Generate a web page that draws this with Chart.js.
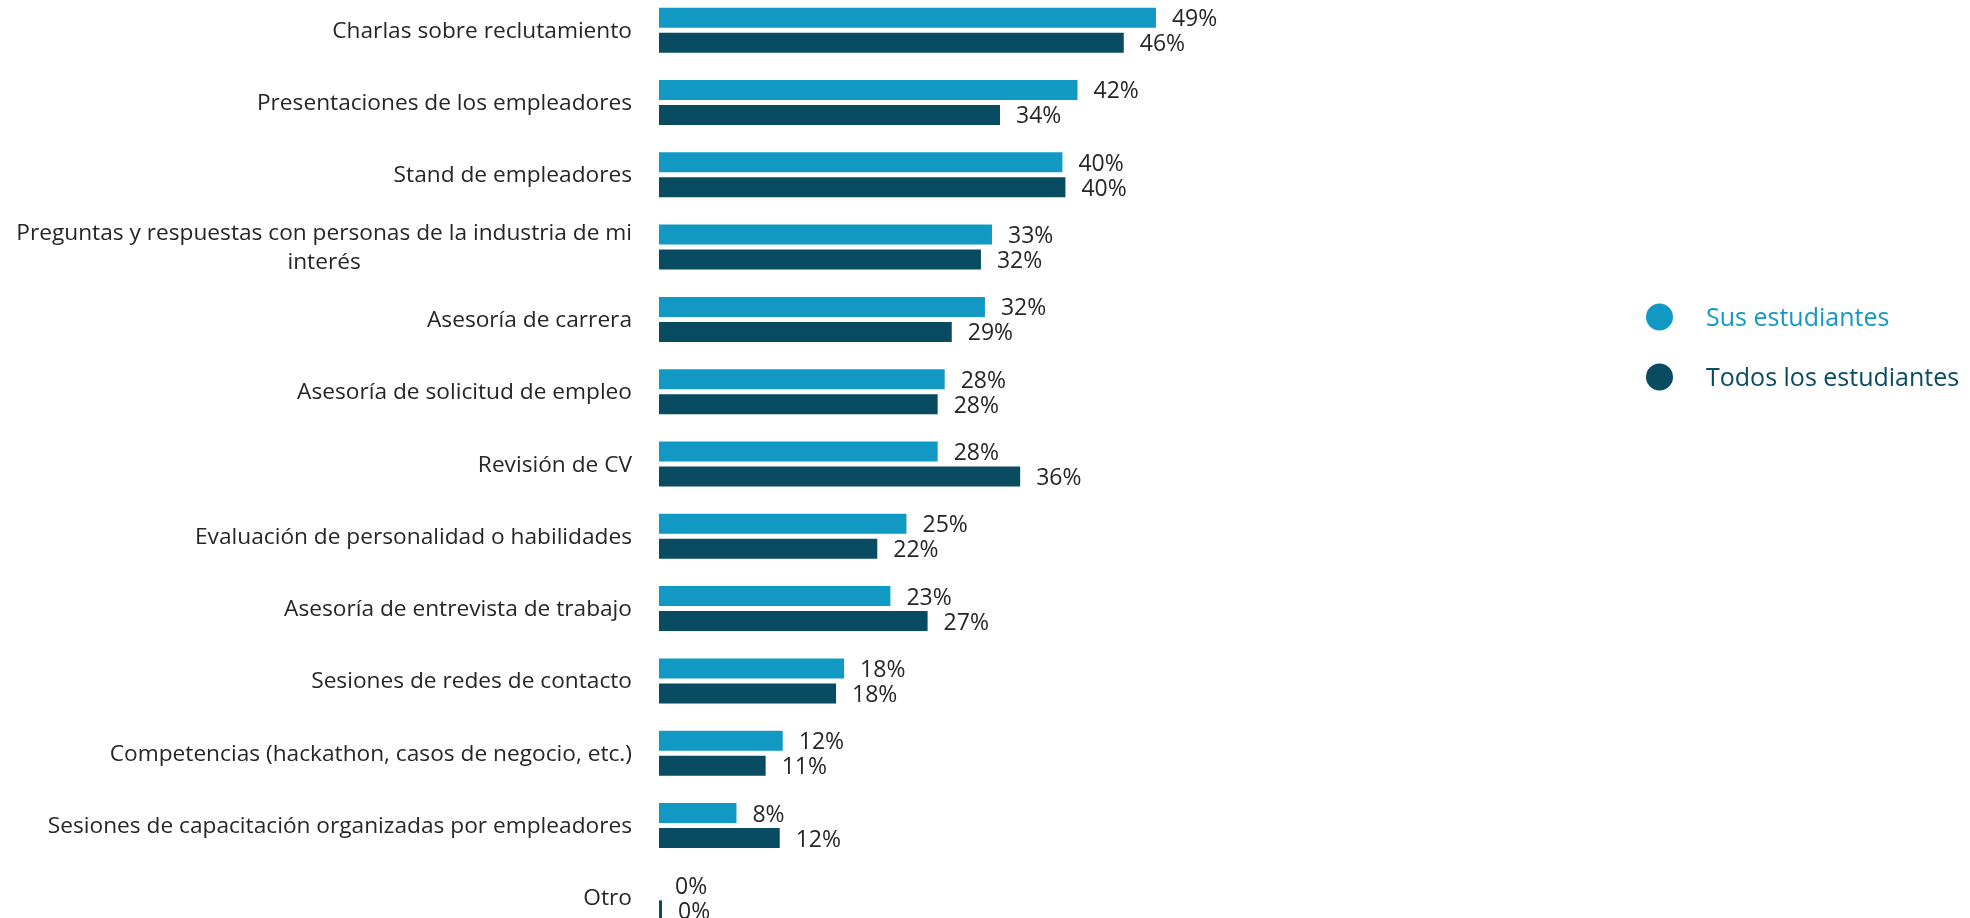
<!DOCTYPE html>
<html lang="es">
<head>
<meta charset="utf-8">
<title>Actividades de reclutamiento</title>
<script src="https://cdn.jsdelivr.net/npm/chart.js@4.4.0/dist/chart.umd.min.js"></script>
<style>
  html, body { margin: 0; padding: 0; background: #fff; overflow: hidden; }
  #wrap { position: absolute; left: 0; top: -6px; width: 1970px; height: 940px; }
</style>
</head>
<body>
<div id="wrap"><canvas id="chart"></canvas></div>
<script>
const categories = [
  "Charlas sobre reclutamiento",
  "Presentaciones de los empleadores",
  "Stand de empleadores",
  ["Preguntas y respuestas con personas de la industria de mi", "interés"],
  "Asesoría de carrera",
  "Asesoría de solicitud de empleo",
  "Revisión de CV",
  "Evaluación de personalidad o habilidades",
  "Asesoría de entrevista de trabajo",
  "Sesiones de redes de contacto",
  "Competencias (hackathon, casos de negocio, etc.)",
  "Sesiones de capacitación organizadas por empleadores",
  "Otro"
];
const susEstudiantes   = [49.4, 41.6, 40.1, 33.1, 32.4, 28.4, 27.7, 24.6, 23.0, 18.4, 12.3, 7.7, 0];
const todosEstudiantes = [46.2, 33.9, 40.4, 32.0, 29.1, 27.7, 35.9, 21.7, 26.7, 17.6, 10.6, 12.0, 0.3];
const seriesNames  = ["Sus estudiantes", "Todos los estudiantes"];
const seriesColors = ["#1199c4", "#094b61"];

const FONT = '"Open Sans", "Noto Sans", sans-serif';
const TEXT_COLOR = "#262626";

// ---------- category labels (right aligned block, lines centred) ----------
const categoryLabels = {
  id: "categoryLabels",
  afterDraw(chart) {
    const ctx = chart.ctx;
    const y = chart.scales.y;
    const right = chart.chartArea.left - 27;
    ctx.save();
    ctx.font = "22.7px " + FONT;
    ctx.fillStyle = TEXT_COLOR;
    ctx.textAlign = "center";
    ctx.textBaseline = "alphabetic";
    categories.forEach((label, i) => {
      const lines = Array.isArray(label) ? label : [label];
      const w = Math.max(...lines.map(l => ctx.measureText(l).width));
      const cx = right - w / 2;
      const lh = 29;
      const top = y.getPixelForValue(i) - (lines.length - 1) * lh / 2;
      lines.forEach((l, k) => ctx.fillText(l, cx, top + k * lh + 7.5));
    });
    ctx.restore();
  }
};

// ---------- value labels ----------
const valueLabels = {
  id: "valueLabels",
  afterDatasetsDraw(chart) {
    const ctx = chart.ctx;
    ctx.save();
    ctx.font = "23px " + FONT;
    ctx.fillStyle = TEXT_COLOR;
    ctx.textAlign = "left";
    ctx.textBaseline = "alphabetic";
    chart.data.datasets.forEach((ds, di) => {
      chart.getDatasetMeta(di).data.forEach((bar, i) => {
        ctx.fillText(Math.round(ds.data[i]) + "%", bar.x + 16, bar.y + 8.5);
      });
    });
    ctx.restore();
  }
};

// ---------- legend ----------
const sideLegend = {
  id: "sideLegend",
  afterDraw(chart) {
    const ctx = chart.ctx;
    ctx.save();
    ctx.font = "25px " + FONT;
    ctx.textAlign = "left";
    ctx.textBaseline = "alphabetic";
    seriesNames.forEach((name, i) => {
      const cy = 323 + i * 60;
      ctx.fillStyle = seriesColors[i];
      ctx.beginPath();
      ctx.arc(1659.5, cy, 13.5, 0, Math.PI * 2);
      ctx.fill();
      ctx.fillText(name, 1706, cy + 9);
    });
    ctx.restore();
  }
};

function build() {
  new Chart(document.getElementById("chart"), {
    type: "bar",
    data: {
      labels: categories,
      datasets: [
        { label: seriesNames[0], data: susEstudiantes, backgroundColor: seriesColors[0] },
        { label: seriesNames[1], data: todosEstudiantes, backgroundColor: seriesColors[1] }
      ]
    },
    options: {
      indexAxis: "y",
      responsive: true,
      maintainAspectRatio: false,
      animation: false,
      events: [],
      layout: { padding: { left: 659, right: 305, top: 0, bottom: 0 } },
      datasets: { bar: { categoryPercentage: 0.6916, barPercentage: 0.8, borderWidth: 0 } },
      scales: {
        x: { display: false, min: 0, max: 100 },
        y: { display: false }
      },
      plugins: { legend: { display: false }, tooltip: { enabled: false } }
    },
    plugins: [categoryLabels, valueLabels, sideLegend]
  });
}

document.fonts.load('22px "Open Sans"').then(build, build);
</script>
</body>
</html>
